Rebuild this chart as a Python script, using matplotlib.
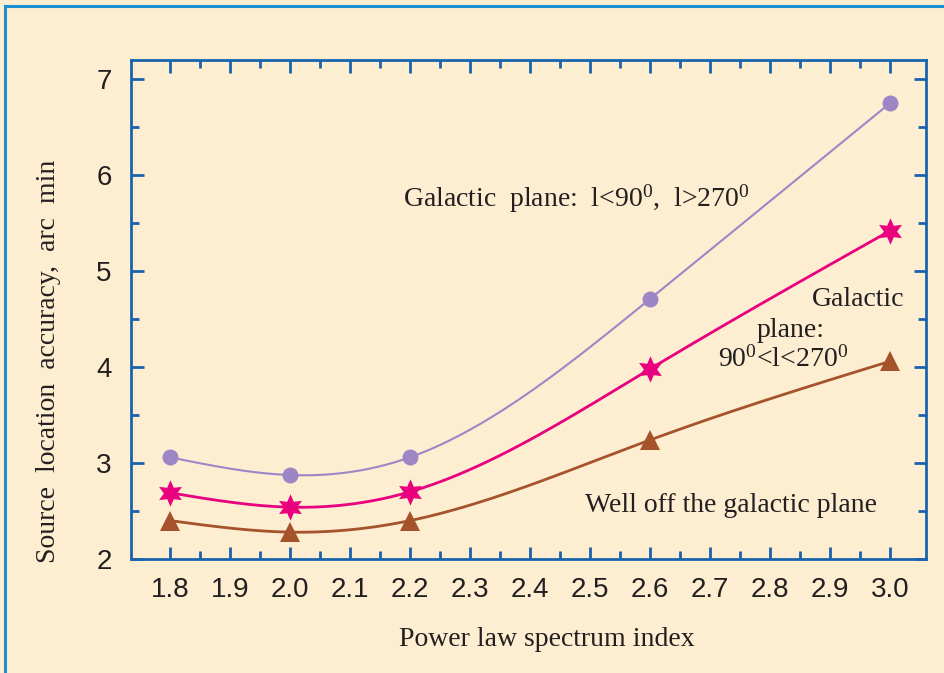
import numpy as np
import matplotlib
matplotlib.use("Agg")
import matplotlib.pyplot as plt
from matplotlib.lines import Line2D

# indice espectral (eje x)
indice = [1.8, 2.0, 2.2, 2.6, 3.0]

# precision de localizacion, arc min
plano_interior = [3.06, 2.875, 3.06, 4.71, 6.75]
plano_exterior = [2.69, 2.54, 2.70, 3.98, 5.42]
fuera_plano = [2.40, 2.28, 2.40, 3.24, 4.06]

FONDO = "#fdedd1"
AZUL = "#1b64ad"
SERIF = "Liberation Serif"

plt.rcParams["mathtext.fontset"] = "custom"
plt.rcParams["mathtext.rm"] = SERIF
plt.rcParams["mathtext.it"] = SERIF


def spline_natural(x, y, n=200):
    """Spline cubico natural para suavizar la curva entre puntos."""
    x = np.asarray(x, float)
    y = np.asarray(y, float)
    k = len(x)
    h = np.diff(x)
    A = np.zeros((k, k))
    b = np.zeros(k)
    A[0, 0] = A[-1, -1] = 1.0
    for i in range(1, k - 1):
        A[i, i - 1] = h[i - 1]
        A[i, i] = 2 * (h[i - 1] + h[i])
        A[i, i + 1] = h[i]
        b[i] = 6 * ((y[i + 1] - y[i]) / h[i] - (y[i] - y[i - 1]) / h[i - 1])
    M = np.linalg.solve(A, b)
    xs = np.linspace(x[0], x[-1], n)
    ys = np.empty_like(xs)
    for j, xv in enumerate(xs):
        i = min(np.searchsorted(x, xv, side="right") - 1, k - 2)
        t1 = x[i + 1] - xv
        t0 = xv - x[i]
        ys[j] = (M[i] * t1 ** 3 + M[i + 1] * t0 ** 3) / (6 * h[i]) \
            + (y[i] / h[i] - M[i] * h[i] / 6) * t1 \
            + (y[i + 1] / h[i] - M[i + 1] * h[i] / 6) * t0
    return xs, ys


fig = plt.figure(figsize=(9.44, 6.73), dpi=100)
fig.patch.set_facecolor(FONDO)
ax = fig.add_axes([0.1388, 0.1694, 0.8421, 0.7414])
ax.set_facecolor(FONDO)

# marco azul del recuadro (solo arriba e izquierda)
fig.add_artist(Line2D([0.0055, 0.0055], [0, 0.991], transform=fig.transFigure,
                      color="#1a8fd6", lw=2.2))
fig.add_artist(Line2D([0.0055, 1.0], [0.991, 0.991], transform=fig.transFigure,
                      color="#1a8fd6", lw=2.2))

series = [
    (plano_interior, "#9d86c6", "o", 11.5, 1.5),
    (plano_exterior, "#e8007f", (6, 1, 0), 19, 2.0),
    (fuera_plano, "#a4532a", "^", 14, 2.0),
]
for valores, color, marca, tam, grosor in series:
    xs, ys = spline_natural(indice, valores)
    ax.plot(xs, ys, color=color, lw=grosor, zorder=2)
    ax.plot(indice, valores, linestyle="none", marker=marca, markersize=tam,
            color=color, markeredgewidth=0, zorder=3)

ax.set_xlim(1.735, 3.06)
ax.set_ylim(2.0, 7.2)
ax.set_xticks(np.arange(1.8, 3.01, 0.1))
ax.set_xticks(np.arange(1.85, 3.0, 0.1), minor=True)
ax.set_yticks(range(2, 8))
ax.set_yticks(np.arange(2.5, 7.0, 1.0), minor=True)
ax.set_xticklabels([f"{v:.1f}" for v in np.arange(1.8, 3.01, 0.1)])

for lado in ax.spines.values():
    lado.set_color(AZUL)
    lado.set_linewidth(2.0)
ax.tick_params(which="both", direction="in", top=True, right=True,
               color=AZUL, width=2.0, labelsize=20, labelcolor="#231f20")
ax.tick_params(which="major", length=9)
ax.tick_params(which="minor", length=5.5)
ax.tick_params(axis="x", which="major", pad=13)
ax.tick_params(axis="y", which="major", pad=14)
for lbl in ax.get_xticklabels() + ax.get_yticklabels():
    lbl.set_family("Liberation Sans")

ax.set_xlabel("Power law spectrum index", family=SERIF, fontsize=20,
              color="#231f20")
ax.set_ylabel("Source  location  accuracy,  arc  min", family=SERIF,
              fontsize=20, color="#231f20")
ax.xaxis.set_label_coords(0.523, -0.137)
ax.yaxis.set_label_coords(-0.088, 0.397)

txt = dict(family=SERIF, fontsize=20, color="#231f20", ha="center", va="center")
ax.text(2.478, 5.75, r"Galactic  plane:  l<90$^0$,  l>270$^0$", **txt)
ax.text(2.947, 4.70, "Galactic", **txt)
ax.text(2.835, 4.38, "plane:", **txt)
ax.text(2.822, 4.08, r"90$^0$<l<270$^0$", **txt)
ax.text(2.735, 2.56, "Well off the galactic plane", **txt)

fig.savefig("out.png", dpi=100, facecolor=FONDO)
